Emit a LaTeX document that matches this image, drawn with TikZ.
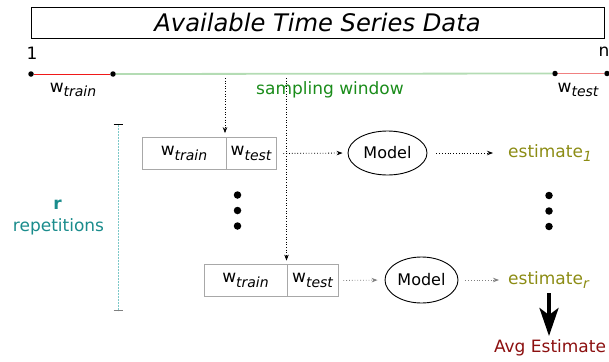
\documentclass[tikz,border=0pt]{standalone}
\usepackage{fontspec}
\setmainfont{DejaVu Sans}
\usetikzlibrary{arrows.meta,shapes.geometric}
\definecolor{trainred}{HTML}{F01818}
\definecolor{testred}{HTML}{F08080}
\definecolor{winline}{HTML}{B4DCB4}
\definecolor{wingreen}{HTML}{1A8C1A}
\definecolor{estolive}{HTML}{8C8C14}
\definecolor{repteal}{HTML}{1A8C8C}
\definecolor{avgred}{HTML}{8C1010}
\definecolor{boxgray}{HTML}{A8A8A8}
\definecolor{brackcyan}{HTML}{7CC8C8}
\newcommand{\lbl}{\fontsize{17}{20}\selectfont}
\newcommand{\wsub}[1]{w\raisebox{-0.45ex}{\fontsize{14}{14}\selectfont\itshape #1}}
\tikzset{
  dotpt/.style={circle,fill=black,inner sep=0pt,minimum size=5.5pt},
  bigdot/.style={circle,fill=black,inner sep=0pt,minimum size=7.5pt},
  txt/.style={inner sep=0pt,font=\lbl},
  wbox/.style={draw=boxgray,line width=0.8pt,inner sep=0pt,minimum height=32pt,font=\lbl},
  modelnode/.style={draw,ellipse,line width=0.9pt,inner sep=0pt,font=\fontsize{16}{19}\selectfont},
  dotarrow/.style={dotted,line width=0.8pt,-{Stealth[length=6pt,width=4.5pt]}},
}
\begin{document}
\begin{tikzpicture}[x=1pt,y=-1pt]
\useasboundingbox (0,0) rectangle (609,361);
% title
\node[draw,line width=0.9pt,minimum width=573pt,minimum height=31pt,inner sep=0pt,
  font=\fontsize{24.2}{28}\selectfont\itshape] (title) at (317.5,22.5) {Available Time Series Data};
% timeline
\node[txt,font=\fontsize{17}{20}\selectfont] (one) at (32,53) {1};
\node[txt,font=\fontsize{17}{20}\selectfont] (enn) at (604,52) {n};
\node[dotpt] (p1) at (31,74) {};
\node[dotpt] (p2) at (113,74) {};
\node[dotpt] (p3) at (555,73.5) {};
\node[dotpt] (p4) at (607,73.5) {};
\draw[trainred,line width=1pt] (p1) -- (p2);
\draw[winline,line width=1.8pt] (p2) -- (p3);
\draw[testred,line width=1pt] (p3) -- (p4);
\node[txt] (wtr) at (73,90) {\wsub{train}};
\node[txt] (wte) at (578,90) {\wsub{test}};
\node[txt,text=wingreen] (sw) at (330,90) {sampling window};
% first window
\node[wbox,minimum width=84pt] (b1l) at (184,153.5) {\wsub{train}};
\node[wbox,minimum width=50pt] (b1r) at (251,153.5) {\wsub{test}};
\node[modelnode,minimum width=79pt,minimum height=44pt] (m1) at (387.5,153) {Model};
\node[txt,text=estolive,anchor=west] (e1) at (508,153) {estimate\raisebox{-0.45ex}{\fontsize{14}{14}\selectfont\itshape 1}};
% second window
\node[wbox,minimum width=83pt] (b2l) at (245.5,280.5) {\wsub{train}};
\node[wbox,minimum width=51pt] (b2r) at (312.5,280.5) {\wsub{test}};
\node[modelnode,minimum width=73pt,minimum height=46pt] (m2) at (421.5,280) {Model};
\node[txt,text=estolive,anchor=west] (e2) at (508,280) {estimate\raisebox{-0.45ex}{\fontsize{14}{14}\selectfont\itshape r}};
% vertical dotted arrows from the sampling window
\coordinate (s1) at (225,78);
\coordinate (s2) at (286.5,78);
\draw[dotarrow,line width=0.6pt] (s1) -- (s1 |- b1r.north) [shorten >=4pt];
\draw[dotarrow,line width=0.6pt] (s2) -- (s2 |- b2r.north) [shorten >=3.5pt];
% horizontal dotted arrows
\draw[dotarrow,shorten <=7pt,shorten >=5pt] (b1r.east) -- (m1.west);
\draw[dotarrow,shorten <=9pt,shorten >=15pt] (m1.east) -- (e1.west);
\draw[dotarrow,gray,shorten <=5pt,shorten >=7pt] (b2r.east) -- (m2.west);
\draw[dotarrow,gray,shorten <=7pt,shorten >=9pt] (m2.east) -- (e2.west);
% ellipsis dots
\node[bigdot] (d1) at (237.5,195) {};
\node[bigdot] (d2) at (237.5,210.5) {};
\node[bigdot] (d3) at (237.5,226) {};
\node[bigdot] (d4) at (549,195.5) {};
\node[bigdot] (d5) at (549,211) {};
\node[bigdot] (d6) at (549,226.5) {};
% average
\node[txt,text=avgred] (avg) at (550,348) {Avg Estimate};
\coordinate (ar) at (549,293);
\draw[line width=3.8pt,-{Stealth[length=28pt,width=19pt,inset=7pt]}] (ar) -- (549,336);
% repetitions bracket
\coordinate (bt) at (118,124.5);
\coordinate (bb) at (118,310.5);
\draw[brackcyan,dashed,dash pattern=on 2pt off 1pt,line width=0.8pt] (bt) -- (bb);
\draw[black,line width=0.9pt] ([xshift=-4.5pt]bt) -- ([xshift=4.5pt]bt);
\draw[gray,line width=0.9pt] ([xshift=-4.5pt]bb) -- ([xshift=4.5pt]bb);
\node[txt,text=repteal,font=\lbl\bfseries] (rr) at (57.5,205) {r};
\node[txt,text=repteal] (rep) at (58.5,227) {repetitions};
\end{tikzpicture}
\end{document}
